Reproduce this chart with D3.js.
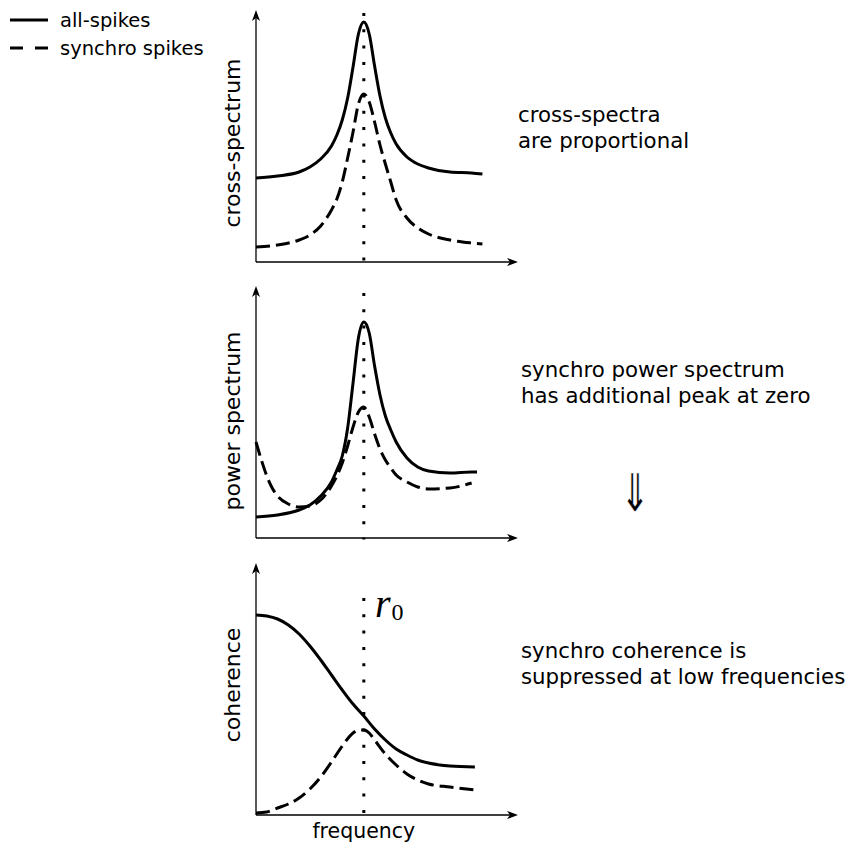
<!DOCTYPE html>
<html>
<head>
<meta charset="utf-8">
<script src="https://cdn.jsdelivr.net/npm/d3@7"></script>
<style>
  html, body { margin: 0; padding: 0; background: #fff; }
  svg { display: block; }
</style>
</head>
<body>
<svg id="chart" width="853" height="845" font-family="DejaVu Sans, sans-serif"></svg>
<script>
// ---------------- data ----------------
const seriesNames = ["all-spikes", "synchro spikes"];
const panelLabels = ["cross-spectrum", "power spectrum", "coherence"];
const panelNotes = [
  ["cross-spectra", "are proportional"],
  ["synchro power spectrum", "has additional peak at zero"],
  ["synchro coherence is", "suppressed at low frequencies"]
];
const xLabel = "frequency";
const peakFreq = 1.0;     // r0

// panel 1: cross-spectrum
const freq1   = [0, 0.2, 0.4, 0.5, 0.6, 0.7, 0.75, 0.8, 0.85, 0.9, 0.95, 1.0, 1.05, 1.1, 1.15, 1.2, 1.25, 1.3, 1.4, 1.5, 1.6, 1.8, 2.0, 2.1];
const allX1   = [84, 86, 90, 95, 103, 116, 127, 142, 164, 195, 228, 240, 228, 196, 166, 144, 129, 118, 105, 98, 94, 90, 89, 88];
const syncX1  = [15, 17, 22, 27, 36, 52, 63, 80, 104, 130, 158, 168, 160, 140, 117, 98, 80, 62, 44, 34, 28, 22, 19, 18];

// panel 2: power spectrum
const freq2a  = [0, 0.2, 0.4, 0.5, 0.6, 0.7, 0.75, 0.8, 0.85, 0.9, 0.95, 1.0, 1.05, 1.1, 1.15, 1.2, 1.25, 1.3, 1.4, 1.5, 1.6, 1.8, 2.0, 2.05];
const allP2   = [21, 23, 28, 33, 42, 56, 68, 82, 110, 155, 200, 216, 205, 172, 143, 122, 108, 96, 80, 71, 67, 65, 66, 66];
const freq2b  = [0, 0.05, 0.1, 0.15, 0.2, 0.3, 0.4, 0.5, 0.6, 0.7, 0.75, 0.8, 0.85, 0.9, 0.95, 1.0, 1.05, 1.1, 1.15, 1.2, 1.25, 1.3, 1.4, 1.5, 1.6, 1.8, 2.0];
const syncP2  = [96, 78, 62, 50, 42, 34, 31, 32, 38, 52, 62, 75, 92, 111, 126, 131, 121, 104, 89, 78, 70, 63, 56, 51, 49, 50, 55];

// panel 3: coherence
const freq3a  = [0, 0.1, 0.2, 0.3, 0.4, 0.5, 0.6, 0.7, 0.8, 0.9, 1.0, 1.1, 1.2, 1.3, 1.4, 1.5, 1.6, 1.8, 2.03];
const allC3   = [200, 199, 196, 190, 181, 169, 155, 140, 125, 111, 99, 86, 75, 66, 60, 55, 52, 49, 48];
const freq3b  = [0, 0.1, 0.2, 0.3, 0.4, 0.5, 0.6, 0.7, 0.8, 0.9, 0.95, 1.0, 1.05, 1.1, 1.2, 1.3, 1.4, 1.5, 1.6, 1.8, 2.03];
const syncC3  = [2, 3, 7, 11, 17, 26, 38, 53, 69, 82, 85, 85, 82, 75, 61, 50, 41, 35, 31, 28, 25];

// ---------------- layout ----------------
const svg = d3.select("#chart");
const x = d3.scaleLinear().domain([0, 2.43]).range([256, 518]);
const panels = [
  { axisY: 262, dotTop: 13, label: panelLabels[0], labelY: 143, note: panelNotes[0], noteX: 518, noteY: 122,
    series: [{ f: freq1, v: allX1, dash: null }, { f: freq1, v: syncX1, dash: "14,6" }] },
  { axisY: 538, dotTop: 293, label: panelLabels[1], labelY: 421, note: panelNotes[1], noteX: 521, noteY: 377,
    series: [{ f: freq2a, v: allP2, dash: null }, { f: freq2b, v: syncP2, dash: "14,6" }] },
  { axisY: 815, dotTop: 598, label: panelLabels[2], labelY: 685, note: panelNotes[2], noteX: 521, noteY: 658,
    series: [{ f: freq3a, v: allC3, dash: null }, { f: freq3b, v: syncC3, dash: "14,6" }] }
];
const H = 252;

function arrowHead(g, tx, ty, dir) {
  const p = d3.path();
  if (dir === "right") {
    p.moveTo(tx, ty); p.lineTo(tx - 11, ty - 4); p.lineTo(tx - 8, ty); p.lineTo(tx - 11, ty + 4); p.closePath();
  } else {
    p.moveTo(tx, ty); p.lineTo(tx - 4, ty + 11); p.lineTo(tx, ty + 8); p.lineTo(tx + 4, ty + 11); p.closePath();
  }
  g.append("path").attr("d", p.toString()).attr("fill", "#000");
}

panels.forEach(P => {
  const y = d3.scaleLinear().domain([0, H]).range([P.axisY, P.axisY - H]);
  const g = svg.append("g");
  const x0 = x.range()[0], x1 = x.range()[1];

  g.append("line").attr("x1", x0).attr("x2", x1 - 3).attr("y1", P.axisY).attr("y2", P.axisY)
    .attr("stroke", "#000").attr("stroke-width", 1.3);
  g.append("line").attr("x1", x0).attr("x2", x0).attr("y1", P.axisY).attr("y2", y(H) + 3)
    .attr("stroke", "#000").attr("stroke-width", 1.3);
  arrowHead(g, x1, P.axisY, "right");
  arrowHead(g, x0, y(H), "up");

  g.append("line").attr("x1", x(peakFreq)).attr("x2", x(peakFreq))
    .attr("y1", P.dotTop).attr("y2", P.axisY + 1.5)
    .attr("stroke", "#000").attr("stroke-width", 3).attr("stroke-dasharray", "3,13.3");

  const line = d3.line().curve(d3.curveMonotoneX);
  P.series.forEach(s => {
    const pts = s.f.map((f, i) => [x(f), y(s.v[i])]);
    g.append("path").attr("d", line(pts)).attr("fill", "none")
      .attr("stroke", "#000").attr("stroke-width", 3)
      .attr("stroke-dasharray", s.dash).attr("stroke-linejoin", "round");
  });

  g.append("text").attr("transform", `translate(240,${P.labelY}) rotate(-90)`)
    .attr("text-anchor", "middle").attr("font-size", 22).text(P.label);

  g.append("text").attr("x", P.noteX).attr("y", P.noteY).attr("font-size", 21.3)
    .selectAll("tspan").data(P.note).join("tspan")
    .attr("x", P.noteX).attr("dy", (d, i) => i ? 26 : 0).text(d => d);
});

// double down arrow (tall)
svg.append("text").attr("transform", "translate(635,511) scale(0.9,1.3)")
  .attr("text-anchor", "middle").attr("fill", "#000")
  .attr("font-size", 40).attr("stroke", "#fff").attr("stroke-width", 0.4)
  .text("\u21D3");

// r0 label
const r0 = svg.append("text").attr("x", 375).attr("y", 617)
  .style("font-family", "'Liberation Serif', 'DejaVu Serif', serif").attr("font-size", 40);
r0.append("tspan").attr("font-style", "italic").text("r");
r0.append("tspan").attr("font-size", 24).attr("dy", 3).attr("dx", 1).text("0");

// x label
svg.append("text").attr("x", x(peakFreq)).attr("y", 838).attr("text-anchor", "middle")
  .attr("font-size", 20.5).text(xLabel);

// legend
const leg = svg.append("g");
seriesNames.forEach((name, i) => {
  const ly = 20 + i * 28;
  leg.append("line").attr("x1", 10).attr("x2", 48).attr("y1", ly).attr("y2", ly)
    .attr("stroke", "#000").attr("stroke-width", 2.8)
    .attr("stroke-dasharray", i ? "13,12" : null);
  leg.append("text").attr("x", 60).attr("y", ly + 7).attr("font-size", 19.5).text(name);
});
</script>
</body>
</html>
